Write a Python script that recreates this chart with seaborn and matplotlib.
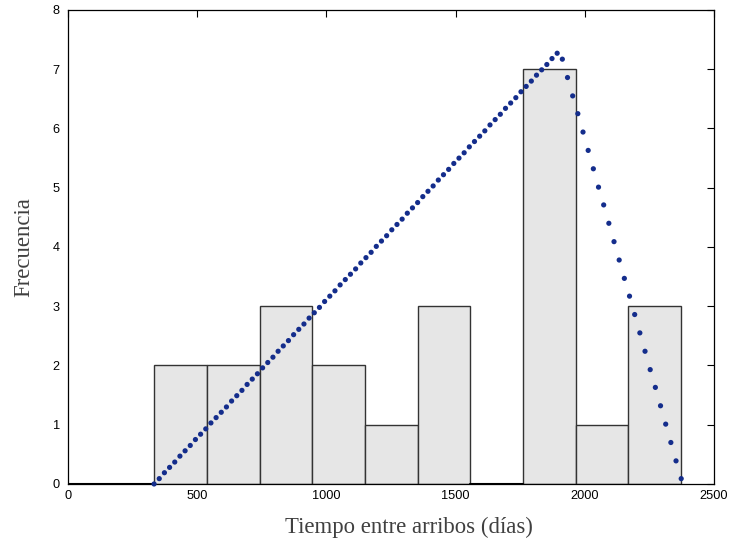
import numpy as np
import pandas as pd
import matplotlib
matplotlib.use("Agg")
import matplotlib.pyplot as plt
import seaborn as sns

# Histogram data (bin edges and counts)
bin_edges = [333, 537, 741, 945, 1149, 1353, 1557, 1761, 1965, 2169, 2373]
counts = [2, 2, 3, 2, 1, 3, 0, 7, 1, 3]

# Fitted (triangular) curve shown as dots
curve_x = [333, 353, 373, 393, 413, 433, 453, 473, 493, 513,
           533, 553, 573, 593, 613, 633, 653, 673, 693, 713,
           733, 753, 773, 793, 813, 833, 853, 873, 893, 913,
           933, 953, 973, 993, 1013, 1033, 1053, 1073, 1093, 1113,
           1133, 1153, 1173, 1193, 1213, 1233, 1253, 1273, 1293, 1313,
           1333, 1353, 1373, 1393, 1413, 1433, 1453, 1473, 1493, 1513,
           1533, 1553, 1573, 1593, 1613, 1633, 1653, 1673, 1693, 1713,
           1733, 1753, 1773, 1793, 1813, 1833, 1853, 1873, 1893, 1913,
           1933, 1953, 1973, 1993, 2013, 2033, 2053, 2073, 2093, 2113,
           2133, 2153, 2173, 2193, 2213, 2233, 2253, 2273, 2293, 2313,
           2333, 2353, 2373]
curve_y = [0.00, 0.09, 0.19, 0.28, 0.37, 0.47, 0.56, 0.65, 0.75, 0.84,
           0.93, 1.03, 1.12, 1.21, 1.30, 1.40, 1.49, 1.58, 1.68, 1.77,
           1.86, 1.96, 2.05, 2.14, 2.24, 2.33, 2.42, 2.52, 2.61, 2.70,
           2.80, 2.89, 2.98, 3.08, 3.17, 3.26, 3.36, 3.45, 3.54, 3.63,
           3.73, 3.82, 3.91, 4.01, 4.10, 4.19, 4.29, 4.38, 4.47, 4.57,
           4.66, 4.75, 4.85, 4.94, 5.03, 5.13, 5.22, 5.31, 5.41, 5.50,
           5.59, 5.69, 5.78, 5.87, 5.96, 6.06, 6.15, 6.24, 6.34, 6.43,
           6.52, 6.62, 6.71, 6.80, 6.90, 6.99, 7.08, 7.18, 7.27, 7.17,
           6.86, 6.55, 6.25, 5.94, 5.63, 5.32, 5.01, 4.71, 4.40, 4.09,
           3.78, 3.47, 3.17, 2.86, 2.55, 2.24, 1.93, 1.63, 1.32, 1.01,
           0.70, 0.39, 0.09]

x_ticks = [0, 500, 1000, 1500, 2000, 2500]
y_ticks = [0, 1, 2, 3, 4, 5, 6, 7, 8]
x_label = "Tiempo entre arribos (días)"
y_label = "Frecuencia"

sns.set_style("white")
plt.rcParams['font.family'] = ['Liberation Sans', 'DejaVu Sans']

centers = [(a + b) / 2 for a, b in zip(bin_edges[:-1], bin_edges[1:])]
hist_df = pd.DataFrame({"x": centers, "w": counts})
curve_df = pd.DataFrame({"x": curve_x, "y": curve_y})

fig = plt.figure(figsize=(7.3, 5.46), dpi=100)
ax = fig.add_axes([0.0932, 0.1136, 0.8849, 0.8681])

sns.histplot(data=hist_df, x="x", weights="w", bins=bin_edges, ax=ax,
             color="#e6e6e6", edgecolor="#333333", linewidth=1.0, alpha=1.0)
ax.plot([0, bin_edges[0]], [0, 0], color="black", lw=1.5, zorder=3)
ax.plot([bin_edges[6], bin_edges[7]], [0, 0], color="black", lw=1.5, zorder=3)
sns.scatterplot(data=curve_df, x="x", y="y", ax=ax, color="#142d8c",
                s=14, edgecolor="none", zorder=5, clip_on=False)

ax.set_xlim(0, 2500)
ax.set_ylim(0, 8)
ax.set_xticks(x_ticks)
ax.set_yticks(y_ticks)
ax.tick_params(direction="in", length=5, width=0.8, top=True, right=True,
               labelsize=9.2, colors="black")
ax.tick_params(axis="x", pad=4)
ax.tick_params(axis="y", pad=6)
for s in ax.spines.values():
    s.set_visible(True)
    s.set_color("black")
    s.set_linewidth(0.9)

serif = ["Liberation Serif", "DejaVu Serif"]
ax.set_xlabel(x_label, fontsize=16.4, family=serif, color="#404040",
              labelpad=11, x=0.528)
ax.set_ylabel(y_label, fontsize=16.4, family=serif, color="#404040", labelpad=13)

fig.savefig("out.png", dpi=100)
